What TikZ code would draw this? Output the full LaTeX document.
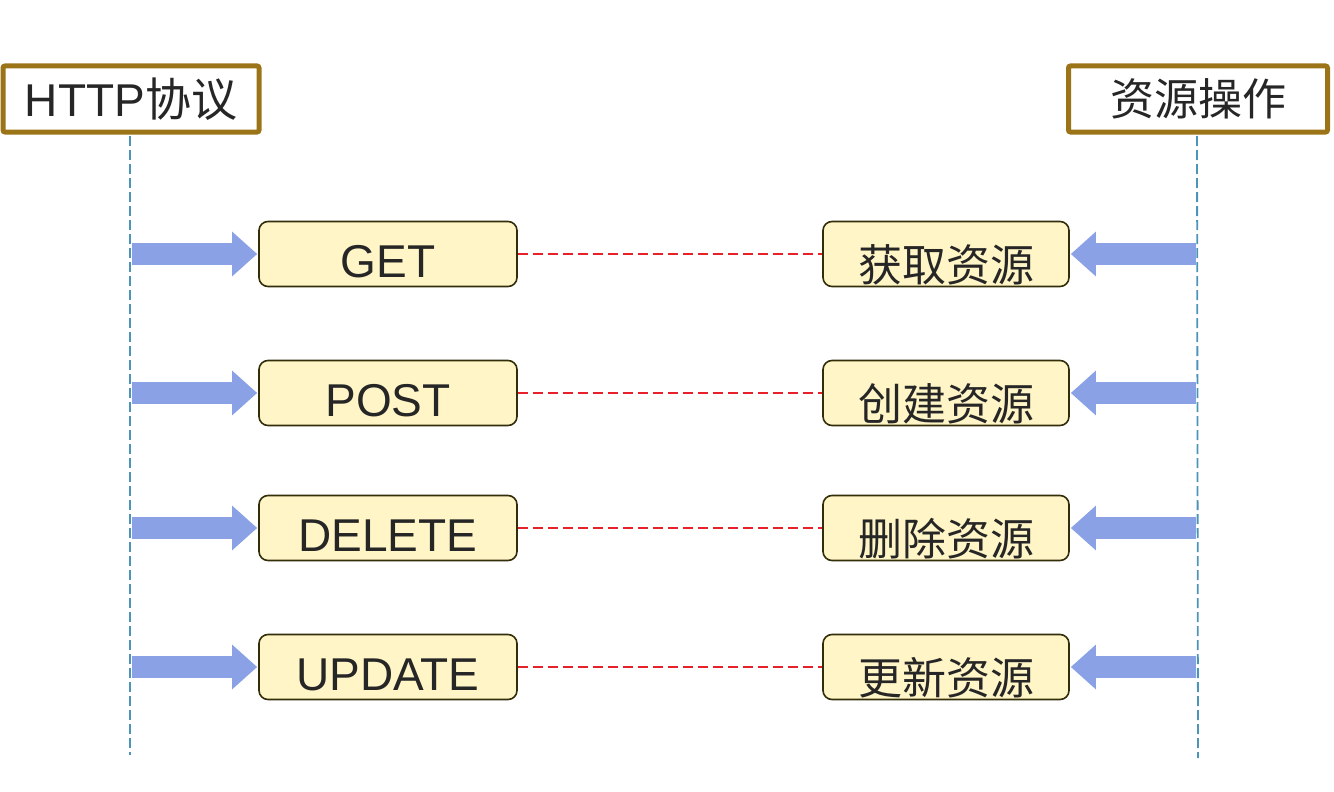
\documentclass[tikz,border=0pt]{standalone}
\usepackage{fontspec}
\setmainfont{Liberation Sans}
\newfontfamily\cjk{Noto Sans CJK SC}
\usetikzlibrary{arrows.meta}
\definecolor{hdrbrown}{HTML}{9C7418}
\definecolor{boxfill}{HTML}{FFF5C6}
\definecolor{boxline}{HTML}{332E0A}
\definecolor{arrowblue}{HTML}{8AA2E5}
\definecolor{lifeblue}{HTML}{4C94B8}
\definecolor{linkred}{HTML}{E8202A}
\definecolor{txt}{HTML}{262626}
\begin{document}
\begin{tikzpicture}[x=1pt,y=-1pt,
  header/.style={draw=hdrbrown,line width=5pt,fill=white,rounded corners=2pt,minimum height=66pt,inner sep=0pt,text=txt},
  opbox/.style={draw=boxline,line width=1.6pt,fill=boxfill,rounded corners=9pt,minimum height=65pt,inner sep=0pt,text=txt},
  latinbox/.style={opbox,minimum width=258pt,text height=46pt,text depth=0pt,font=\fontsize{46pt}{50pt}\selectfont},
  cjkbox/.style={opbox,minimum width=246pt,text height=54pt,text depth=0pt,font=\fontsize{44pt}{50pt}\selectfont\cjk},
  lifeline/.style={draw=lifeblue,line width=1.8pt,dash pattern=on 10pt off 4pt},
  link/.style={draw=linkred,line width=1.6pt,dash pattern=on 10pt off 5pt},
  bigarrow/.style={draw=arrowblue,line width=22pt,-{Triangle[length=25pt,width=43pt]}}
]
\useasboundingbox (0,0) rectangle (1334,792);
% headers
\node[header,minimum width=256pt] (http) at (131,99) {\fontsize{46pt}{50pt}\selectfont HTTP{\cjk 协议}};
\node[header,minimum width=259pt] (res) at (1198,99) {\fontsize{44pt}{50pt}\selectfont\cjk 资源操作};
% lifelines
\coordinate (lt) at (130,136);
\coordinate (lb) at (130,755);
\coordinate (rt) at (1197,136);
\coordinate (rb) at (1198,758);
\draw[lifeline] (lt) -- (lb);
\draw[lifeline] (rt) -- (rb);
% boxes
\foreach \n/\y/\lt/\rtxt in {get/254/GET/获取资源, post/393/POST/创建资源, del/528/DELETE/删除资源, upd/667/UPDATE/更新资源}{
  \node[latinbox] (\n L) at (388,\y) {\lt};
  \node[cjkbox] (\n R) at (946,\y) {\rtxt};
  \coordinate (\n A) at (132,\y);
  \coordinate (\n B) at (1196,\y);
  \draw[link] (\n L.east) -- (\n R.west);
  \draw[bigarrow,shorten >=1pt] (\n A) -- (\n L.west);
  \draw[bigarrow,shorten >=1pt] (\n B) -- (\n R.east);
}
\end{tikzpicture}
\end{document}
